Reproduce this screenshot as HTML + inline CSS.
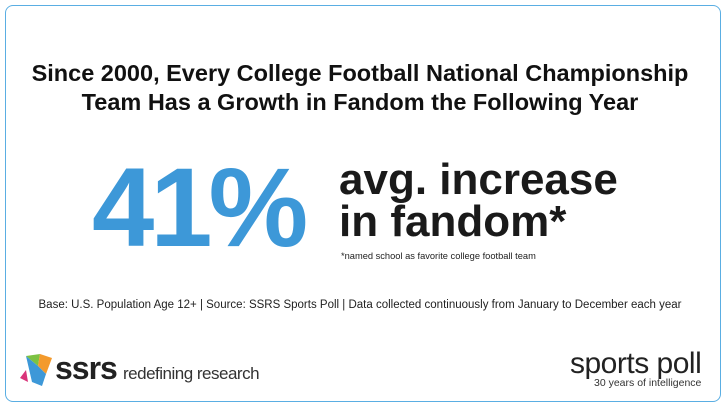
<!DOCTYPE html>
<html><head><style>
body{margin:0;width:728px;height:413px;background:#fff;position:relative;overflow:hidden;font-family:"Liberation Sans",sans-serif;}
.frame{position:absolute;left:5px;top:5px;width:716px;height:397px;border:1.5px solid #5aaee3;border-radius:8px;box-sizing:border-box;}
.t{position:absolute;left:0;width:720px;text-align:center;font-weight:bold;font-size:23.5px;color:#111;}
.big{position:absolute;left:92px;top:152px;font-size:112px;font-weight:bold;color:#3d98d8;letter-spacing:-4px;line-height:1;}
.r{position:absolute;left:339px;font-size:44px;font-weight:bold;color:#1a1a1a;line-height:1;}
</style></head><body>
<div class="frame"></div>
<div class="t" style="top:60px">Since 2000, Every College Football National Championship</div>
<div class="t" style="top:89px">Team Has a Growth in Fandom the Following Year</div>
<div class="big">41%</div>
<div class="r" style="top:158px">avg. increase</div>
<div class="r" style="top:200px">in fandom*</div>
<div style="position:absolute;left:341px;top:251px;font-size:9.3px;color:#222">*named school as favorite college football team</div>
<div style="position:absolute;left:0;width:720px;text-align:center;top:299px;font-size:11.5px;color:#222">Base: U.S. Population Age 12+ | Source: SSRS Sports Poll | Data collected continuously from January to December each year</div>
<svg style="position:absolute;left:18px;top:352px" width="40" height="36">
<polygon points="8,4 22,2 20,14" fill="#7cc242"/>
<polygon points="22,2 34,6 28,22 20,14" fill="#f39a2c"/>
<polygon points="8,4 20,14 28,22 24,34 14,30" fill="#3d98d8"/>
<polygon points="2,26 8,18 10,30" fill="#d9337a"/>
</svg>
<div style="position:absolute;left:55px;top:352px;font-size:32px;font-weight:bold;color:#222;letter-spacing:-1px;line-height:1">ssrs</div>
<div style="position:absolute;left:123px;top:364px;font-size:17px;color:#333;letter-spacing:-0.5px">redefining research</div>
<div style="position:absolute;left:570px;top:349px;font-size:30px;color:#222;letter-spacing:-0.5px;line-height:1">sports poll</div>
<div style="position:absolute;left:594px;top:378px;font-size:10.5px;color:#333;line-height:1">30 years of intelligence</div>
</body></html>
